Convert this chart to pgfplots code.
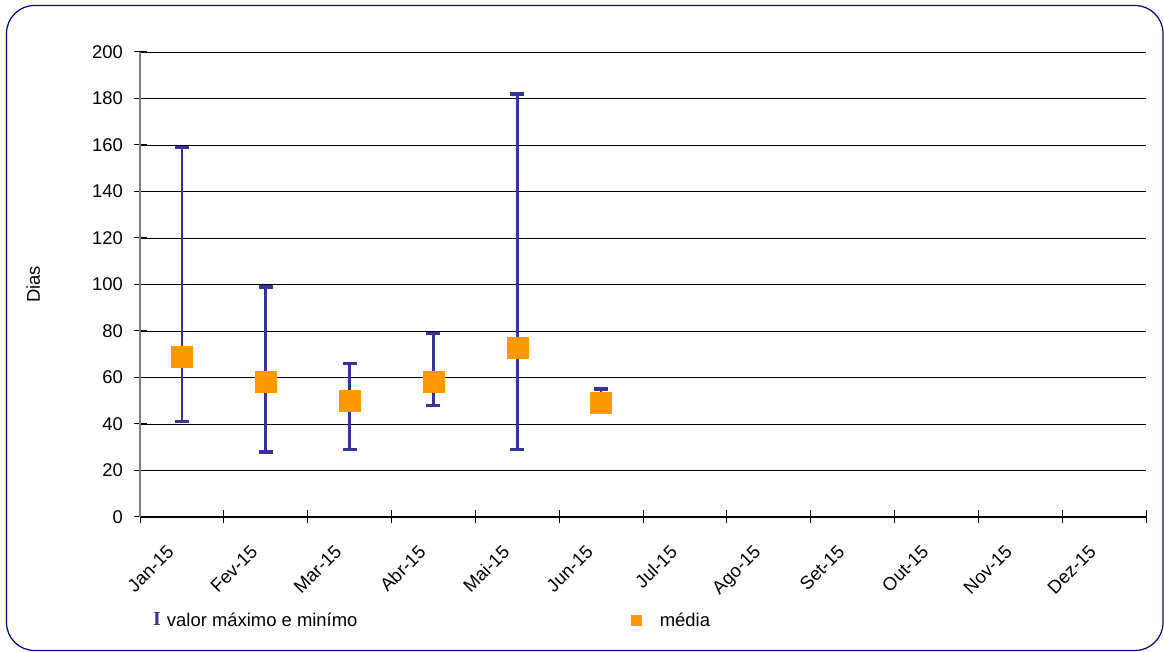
\documentclass[border=0pt]{standalone}
\usepackage{pgfplots}
\pgfplotsset{compat=1.18}
\usepackage{pgfplotstable}
\usepackage{fontspec}
\setmainfont{Liberation Sans}
\newfontfamily\serifbf{Liberation Serif}[BoldFont={* Bold}]
\definecolor{barblue}{HTML}{333399}
\definecolor{meanorange}{HTML}{FF9900}
\definecolor{frameblue}{HTML}{000080}
\pgfplotstableread{
x    mean max min
0.5  69   159 41
1.5  58   99  28
2.5  50   66  29
3.5  58   79  48
4.5  73   182 29
5.5  49   55  47
}\datatable
\begin{document}
\begin{tikzpicture}[x=1bp,y=1bp]
\path[use as bounding box] (0,0) rectangle (1164,652);
\draw[frameblue, line width=1.2bp, rounded corners=28bp] (6.5,1.5) rectangle (1163,646.5);
\begin{axis}[
  at={(140bp,135bp)}, anchor=south west,
  scale only axis, width=1006bp, height=465bp,
  xmin=0, xmax=12, ymin=0, ymax=200,
  ytick={0,20,...,200},
  xtick={0,...,12},
  xticklabels={Jan-15,Fev-15,Mar-15,Abr-15,Mai-15,Jun-15,Jul-15,Ago-15,Set-15,Out-15,Nov-15,Dez-15},
  x tick label as interval,
  axis lines*=left,
  x axis line style={black, line width=1bp},
  y axis line style={gray, line width=2bp},
  tick align=center,
  major tick length=13bp,
  tick style={black, line width=1bp},
  ymajorgrids,
  major grid style={black, line width=0.9bp},
  /pgf/number format/assume math mode=true,
  every tick label/.append style={font=\fontsize{18.5}{21}\selectfont},
  yticklabel style={xshift=-7bp},
  xticklabel style={xshift=-16bp, yshift=-19bp, rotate=45, anchor=north east, inner sep=1bp},
  ylabel={Dias},
  ylabel style={font=\fontsize{18.5}{21}\selectfont, at={(axis description cs:-0.106,0.5)}, anchor=center},
  legend columns=2,
  legend style={at={(axis description cs:0.010,-0.2215)}, anchor=west, draw=none, fill=none,
     font=\fontsize{18.5}{21}\selectfont, /tikz/every even column/.append style={column sep=272bp}},
  legend cell align=left,
]
\addplot[only marks, mark=none,
  legend image code/.code={\node[inner sep=0pt, text=barblue, font=\fontsize{20}{20}\serifbf\bfseries] at (0bp,0bp) {I};},
  error bars/.cd, y dir=both, y explicit,
  error bar style={draw=barblue, line width=2.8bp},
  error mark options={draw=barblue, line width=3.5bp, mark size=7bp, rotate=90},
  ] table[x=x, y=mean, y error plus expr=\thisrow{max}-\thisrow{mean}, y error minus expr=\thisrow{mean}-\thisrow{min}] \datatable;
\addlegendentry{\hspace*{4bp}valor máximo e minímo}
\addplot[only marks, mark=square*, mark size=10.5bp, mark options={fill=meanorange, draw=meanorange},
  legend image code/.code={\fill[meanorange] (-5bp,-5bp) rectangle (5bp,5bp); \path (20bp,0bp);}] table[x=x, y=mean] \datatable;
\addlegendentry{\hspace*{1bp}média}
\end{axis}
\end{tikzpicture}
\end{document}
